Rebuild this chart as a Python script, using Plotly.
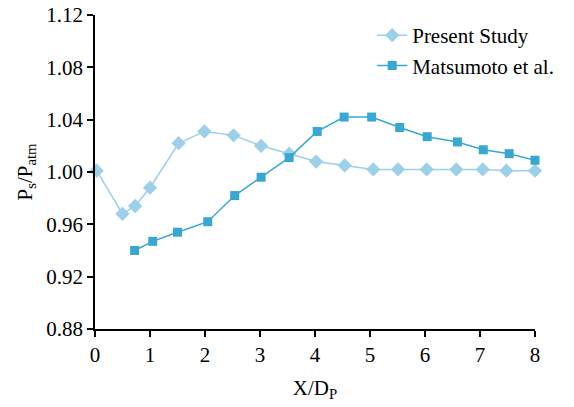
import plotly.graph_objects as go

present_x = [0.03, 0.50, 0.73, 1.00, 1.52, 1.99, 2.52, 3.02, 3.53, 4.02, 4.54, 5.06, 5.51, 6.03, 6.57, 7.05, 7.48, 8.0]
present_y = [1.001, 0.968, 0.974, 0.988, 1.022, 1.031, 1.028, 1.020, 1.014, 1.008, 1.005, 1.002, 1.002, 1.002, 1.002, 1.002, 1.001, 1.001]

matsu_x = [0.72, 1.05, 1.50, 2.05, 2.54, 3.02, 3.53, 4.04, 4.53, 5.03, 5.54, 6.04, 6.59, 7.06, 7.53, 8.0]
matsu_y = [0.940, 0.947, 0.954, 0.962, 0.982, 0.996, 1.011, 1.031, 1.042, 1.042, 1.034, 1.027, 1.023, 1.017, 1.014, 1.009]

x_ticks = [0, 1, 2, 3, 4, 5, 6, 7, 8]
y_ticks = [0.88, 0.92, 0.96, 1.00, 1.04, 1.08, 1.12]

FONT = "Liberation Serif"
FS = 21

fig = go.Figure()
fig.add_trace(go.Scatter(
    x=present_x, y=present_y, mode="lines+markers", name="Present Study",
    line=dict(color="#9ccfe8", width=1.5),
    marker=dict(symbol="diamond", size=11, color="#9ccfe8"),
    cliponaxis=False,
))
fig.add_trace(go.Scatter(
    x=matsu_x, y=matsu_y, mode="lines+markers", name="Matsumoto et al.",
    line=dict(color="#38a8d3", width=1.5),
    marker=dict(symbol="square", size=9, color="#38a8d3"),
    cliponaxis=False,
))

axis_common = dict(
    showgrid=False, zeroline=False, showline=True, linecolor="black", linewidth=1.5,
    ticks="outside", ticklen=6, tickwidth=1.5, tickcolor="black",
    tickfont=dict(family=FONT, size=FS, color="black"), mirror=False, automargin=False,
    ticklabeloverflow="allow",
)

# the page body has an 8px margin, so the figure is offset by 8px
fig.update_layout(
    width=566, height=399,
    margin=dict(l=87, r=39, t=7, b=78),
    paper_bgcolor="white", plot_bgcolor="white",
    font=dict(family=FONT, size=FS, color="black"),
    showlegend=True,
    legend=dict(x=0.63, y=1.0, xanchor="left", yanchor="top",
                bgcolor="rgba(0,0,0,0)", font=dict(family=FONT, size=FS, color="black"),
                tracegroupgap=0, itemwidth=30),
    xaxis=dict(range=[0, 8], tickvals=x_ticks, ticktext=[str(v) for v in x_ticks],
               title=dict(text="X/D<sub>P</sub>", font=dict(family=FONT, size=FS), standoff=14),
               **axis_common),
    yaxis=dict(range=[0.88, 1.12], tickvals=y_ticks, ticktext=[f"{v:.2f}" for v in y_ticks],
               title=dict(text="P<sub>s</sub>/P<sub>atm</sub>", font=dict(family=FONT, size=FS), standoff=8),
               **axis_common),
)

fig.write_html("out.html")
